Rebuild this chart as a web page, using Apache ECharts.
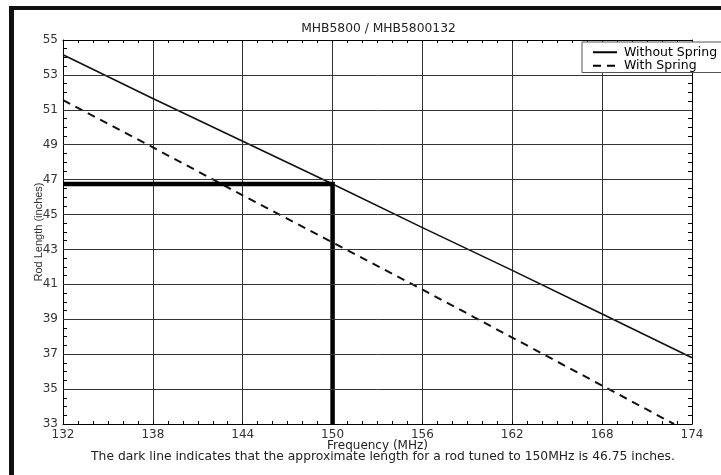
<!DOCTYPE html>
<html>
<head>
<meta charset="utf-8">
<script src="https://cdn.jsdelivr.net/npm/echarts@6/dist/echarts.min.js"></script>
<style>
html,body{margin:0;padding:0;background:#fff;}
#chart{width:721px;height:475px;}
</style>
</head>
<body>
<div id="chart"></div>
<script>
// ---- data ----
const chartTitle = 'MHB5800 / MHB5800132';
const caption = 'The dark line indicates that the approximate length for a rod tuned to 150MHz is 46.75 inches.';
const seriesNames = ['Without Spring', 'With Spring'];
const freqWithout = [132, 138, 144, 150, 156, 162, 168, 174];
const withoutSpring = [54.15, 51.65, 49.2, 46.75, 44.25, 41.8, 39.3, 36.8];
const freqWith = [132, 138, 144, 150, 156, 162, 168, 172.8];
const withSpring = [51.56, 48.85, 46.1, 43.4, 40.7, 37.95, 35.2, 33.0];
const markerFreq = 150;
const markerLength = 46.75;
const xTicks = [132, 138, 144, 150, 156, 162, 168, 174];
const yTicks = [33, 35, 37, 39, 41, 43, 45, 47, 49, 51, 53, 55];

const WIDE = "'DejaVu Sans', 'Liberation Sans', sans-serif";
const NARROW = "'Liberation Sans', Arial, sans-serif";
const xMin = xTicks[0], xMax = xTicks[xTicks.length - 1];
const yMin = yTicks[0], yMax = yTicks[yTicks.length - 1];

const chart = echarts.init(document.getElementById('chart'), null, {renderer: 'canvas'});

const pairs = (xs, ys) => xs.map((x, i) => [x, ys[i]]);
const markerPath = [[xMin, markerLength], [markerFreq, markerLength], [markerFreq, yMin]];

const option = {
  animation: false,
  backgroundColor: '#fff',
  textStyle: {fontFamily: WIDE},
  grid: {left: 63, top: 40, right: 29, bottom: 51, containLabel: false},
  legend: {
    data: seriesNames,
    orient: 'vertical',
    left: 582, top: 42,
    itemWidth: 24, itemHeight: 2, itemGap: 0,
    padding: [3.5, 60, 0, 10],
    backgroundColor: '#fff',
    borderColor: '#555', borderWidth: 1,
    itemStyle: {color: 'rgba(0,0,0,0)', borderColor: 'rgba(0,0,0,0)', borderWidth: 0, opacity: 0},
    lineStyle: {width: 2, color: '#000'},
    textStyle: {fontFamily: WIDE, fontSize: 12.5, lineHeight: 13.5, color: '#000', padding: [0, 0, 0, 2]}
  },
  xAxis: [{
    type: 'value', min: xMin, max: xMax, interval: 6,
    name: 'Frequency (MHz)', nameLocation: 'middle', nameGap: 16, nameMoveOverlap: false,
    nameTextStyle: {fontFamily: WIDE, fontSize: 12, color: '#222'},
    axisLine: {show: true, onZero: false, lineStyle: {color: '#000', width: 1}},
    axisTick: {show: true, inside: true, length: 3, lineStyle: {color: '#000'}},
    minorTick: {show: true, splitNumber: 6, length: 3, lineStyle: {color: '#000'}},
    axisLabel: {fontFamily: WIDE, fontSize: 12, color: '#333', margin: 5},
    splitLine: {show: true, lineStyle: {color: '#333', width: 1}}
  }, {
    type: 'value', min: xMin, max: xMax, interval: 6, position: 'top',
    axisLine: {show: true, onZero: false, lineStyle: {color: '#000', width: 1}},
    axisTick: {show: true, inside: true, length: 3, lineStyle: {color: '#000'}},
    minorTick: {show: true, splitNumber: 6, length: 3, lineStyle: {color: '#000'}},
    axisLabel: {show: false},
    splitLine: {show: false}
  }],
  yAxis: [{
    type: 'value', min: yMin, max: yMax, interval: 0.5,
    name: 'Rod Length (inches)', nameLocation: 'middle', nameGap: 19, nameMoveOverlap: false,
    nameTextStyle: {fontFamily: NARROW, fontSize: 11, color: '#333'},
    axisLine: {show: true, onZero: false, lineStyle: {color: '#000', width: 1}},
    axisTick: {show: true, inside: true, length: 4, lineStyle: {color: '#000'}},
    axisLabel: {
      fontFamily: WIDE, fontSize: 12, color: '#333', margin: 5,
      formatter: v => (yTicks.indexOf(Math.round(v * 10) / 10) >= 0 ? String(Math.round(v)) : '')
    },
    splitLine: {show: false}
  }, {
    type: 'value', min: yMin, max: yMax, interval: 0.5, position: 'right',
    axisLine: {show: true, onZero: false, lineStyle: {color: '#000', width: 1}},
    axisTick: {show: true, inside: true, length: 4, lineStyle: {color: '#000'}},
    axisLabel: {show: false},
    splitLine: {show: false}
  }],
  series: [{
    name: seriesNames[0], type: 'line', xAxisIndex: 0, yAxisIndex: 0,
    data: pairs(freqWithout, withoutSpring),
    symbol: 'none', showSymbol: false,
    lineStyle: {color: '#111', width: 1.6, type: 'solid'},
    itemStyle: {color: '#111'},
    z: 3,
    markLine: {
      silent: true, symbol: 'none', animation: false,
      label: {show: false},
      lineStyle: {color: '#333', width: 1, type: 'solid'},
      data: yTicks.slice(1, -1).map(v => ({yAxis: v}))
    }
  }, {
    name: seriesNames[1], type: 'line', xAxisIndex: 0, yAxisIndex: 0,
    data: pairs(freqWith, withSpring),
    symbol: 'none', showSymbol: false,
    lineStyle: {color: '#111', width: 2, type: [8, 6]},
    itemStyle: {color: '#111'},
    z: 3
  }, {
    name: 'marker', type: 'line', xAxisIndex: 0, yAxisIndex: 0,
    data: markerPath,
    symbol: 'none', showSymbol: false, silent: true,
    lineStyle: {color: '#000', width: 4.5, cap: 'butt', join: 'miter'},
    z: 4
  }],
  graphic: [
    {type: 'rect', shape: {x: 9, y: 6, width: 5, height: 469}, style: {fill: '#111'}, silent: true},
    {type: 'rect', shape: {x: 9, y: 6, width: 712, height: 4}, style: {fill: '#111'}, silent: true},
    {type: 'text', x: 378.5, y: 29, style: {text: chartTitle, font: "12.3px " + WIDE, fill: '#222', textAlign: 'center', textVerticalAlign: 'middle'}},
    {type: 'text', x: 383, y: 457, style: {text: caption, font: "12.3px " + WIDE, fill: '#222', textAlign: 'center', textVerticalAlign: 'middle'}}
  ]
};
chart.setOption(option);
</script>
</body>
</html>
